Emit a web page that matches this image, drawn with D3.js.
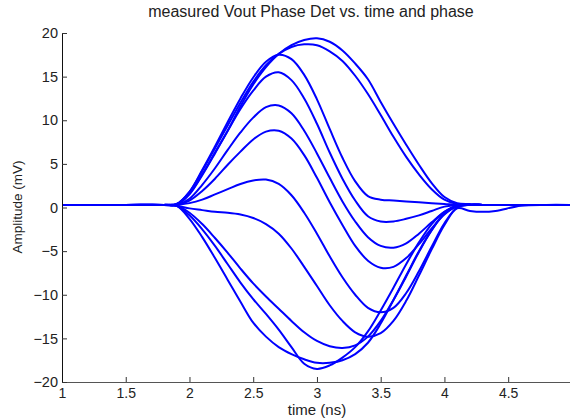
<!DOCTYPE html>
<html>
<head>
<meta charset="utf-8">
<script src="https://cdn.jsdelivr.net/npm/d3@7"></script>
<style>
  html, body { margin: 0; padding: 0; background: #fff; }
  svg text { font-family: Arial, "Liberation Sans", sans-serif; fill: #222; }
</style>
</head>
<body>
<svg id="chart" width="570" height="418"></svg>
<script>
// ---- data ----
const times = [1.0, 1.5, 1.8, 1.9, 2.0, 2.1, 2.2, 2.3, 2.4, 2.5, 2.6, 2.7, 2.8, 2.9, 3.0, 3.1, 3.2, 3.3, 3.4, 3.5, 3.6, 3.7, 3.8, 3.9, 4.0, 4.1, 4.2, 4.3, 4.4, 4.6, 4.8, 4.98];

const traceA  = [0.3, 0.3, 0.3, 0.4, 1.6, 3.8, 6.3, 8.8, 11.6, 14.1, 16.1, 17.6, 18.6, 19.2, 19.4, 19.0, 18.0, 16.5, 14.7, 12.1, 9.6, 7.2, 4.9, 2.8, 1.2, 0.5, 0.4, 0.3, 0.3, 0.3, 0.3, 0.3];
const traceA2 = [0.3, 0.3, 0.3, 0.4, 1.8, 4.2, 6.8, 9.4, 12.0, 14.4, 16.3, 17.6, 18.4, 18.7, 18.6, 17.9, 16.8, 15.1, 13.0, 10.6, 8.1, 5.8, 3.8, 2.1, 0.9, 0.4, 0.3, 0.3, 0.3, 0.3, 0.3, 0.3];
const traceB  = [0.3, 0.3, 0.3, 0.4, 1.8, 4.3, 7.0, 9.8, 12.5, 14.9, 16.7, 17.5, 17.0, 15.2, 12.4, 9.0, 5.7, 3.0, 1.3, 0.9, 0.8, 0.7, 0.6, 0.5, 0.4, 0.3, 0.3, 0.3, 0.3, 0.3, 0.3, 0.3];
const traceC  = [0.3, 0.3, 0.3, 0.3, 1.5, 3.7, 6.2, 8.8, 11.3, 13.4, 15.0, 15.5, 14.6, 12.5, 9.6, 6.3, 3.3, 0.8, -1.0, -1.6, -1.6, -1.3, -0.9, -0.4, 0.1, 0.3, 0.3, 0.3, 0.3, 0.3, 0.3, 0.3];
const traceD  = [0.3, 0.3, 0.3, 0.3, 1.0, 2.6, 4.5, 6.6, 8.6, 10.3, 11.5, 11.7, 10.8, 8.8, 6.2, 3.4, 0.7, -1.6, -3.4, -4.4, -4.6, -4.1, -3.0, -1.7, -0.5, 0.2, 0.3, 0.3, 0.3, 0.3, 0.3, 0.3];
const traceE  = [0.3, 0.3, 0.3, 0.3, 0.8, 1.9, 3.3, 4.9, 6.4, 7.8, 8.7, 8.8, 7.9, 6.0, 3.4, 0.6, -2.0, -4.4, -6.1, -6.9, -6.8, -5.8, -4.2, -2.4, -0.8, 0.2, 0.3, 0.3, 0.3, 0.3, 0.3, 0.3];
const traceF  = [0.3, 0.3, 0.3, 0.3, 0.5, 0.9, 1.5, 2.1, 2.7, 3.1, 3.2, 2.7, 1.4, -0.6, -3.0, -5.6, -8.0, -10.0, -11.5, -12.0, -11.5, -9.8, -7.3, -4.5, -1.8, 0.0, 0.3, 0.3, 0.3, 0.3, 0.3, 0.3];
const traceG  = [0.3, 0.3, 0.3, 0.2, -0.1, -0.3, -0.5, -0.6, -0.8, -1.2, -1.9, -3.0, -4.7, -6.8, -9.0, -11.2, -13.0, -14.3, -14.8, -14.4, -13.0, -10.7, -7.8, -4.8, -2.0, -0.1, -0.4, -0.5, -0.4, 0.2, 0.3, 0.3];
const traceH  = [0.3, 0.3, 0.3, 0.2, -0.6, -1.9, -3.5, -5.2, -7.0, -8.7, -10.2, -11.6, -13.0, -14.3, -15.3, -15.9, -16.1, -15.8, -14.8, -13.0, -10.6, -7.9, -5.1, -2.6, -0.7, 0.1, 0.3, 0.3, 0.3, 0.3, 0.3, 0.3];
const traceI  = [0.3, 0.3, 0.3, 0.2, -1.3, -3.4, -5.8, -8.3, -10.8, -13.2, -14.8, -16.0, -16.8, -17.4, -17.8, -17.8, -17.5, -16.8, -15.5, -13.3, -10.6, -7.8, -5.0, -2.6, -0.7, 0.2, 0.3, 0.3, 0.3, 0.3, 0.3, 0.3];
const traceJ  = [0.3, 0.3, 0.3, 0.2, -0.9, -2.5, -4.4, -6.5, -8.6, -10.5, -12.2, -14.0, -16.0, -17.9, -18.5, -18.1, -17.2, -16.0, -14.2, -11.8, -9.2, -6.5, -4.0, -1.9, -0.5, 0.2, 0.3, 0.3, 0.3, 0.3, 0.3, 0.3];

const traces = [traceA, traceA2, traceB, traceC, traceD, traceE, traceF, traceG, traceH, traceI, traceJ];

const xTicks = [1, 1.5, 2, 2.5, 3, 3.5, 4, 4.5];
const yTicks = [-20, -15, -10, -5, 0, 5, 10, 15, 20];

const titleText = "measured Vout Phase Det vs. time and phase";
const xLabel = "time (ns)";
const yLabel = "Amplitude (mV)";

// ---- layout ----
const W = 570, H = 418;
const mLeft = 62, mRight = 570, mTop = 33, mBottom = 382;
const FONT = "Arial, 'Liberation Sans', sans-serif";

const svg = d3.select("#chart");
const x = d3.scaleLinear().domain([1, 4.985]).range([mLeft, mRight]);
const y = d3.scaleLinear().domain([-20, 20]).range([mBottom, mTop]);

svg.append("defs").append("clipPath").attr("id", "plotclip")
  .append("rect").attr("x", mLeft).attr("y", mTop - 2).attr("width", mRight - mLeft).attr("height", mBottom - mTop + 4);

const line = d3.line()
  .x((d, i) => x(times[i]))
  .y(d => y(d))
  .curve(d3.curveCatmullRom.alpha(0.5));

svg.append("g").attr("clip-path", "url(#plotclip)")
  .selectAll("path").data(traces).join("path")
  .attr("d", d => line(d))
  .attr("fill", "none")
  .attr("stroke", "#0000ff")
  .attr("stroke-width", 2)
  .attr("stroke-linejoin", "round");

// axes
const xAxis = d3.axisBottom(x).tickValues(xTicks).tickSize(-5).tickPadding(6)
  .tickFormat(d3.format("~g"));
const gx = svg.append("g").attr("transform", `translate(0,${mBottom})`).call(xAxis);
gx.select(".domain").attr("stroke", "#555");
gx.selectAll(".tick line").attr("stroke", "#333");
gx.selectAll(".tick text").attr("font-size", 14).attr("fill", "#222").attr("font-family", FONT);

const yAxis = d3.axisLeft(y).tickValues(yTicks).tickSize(-5).tickPadding(4)
  .tickFormat(d3.format("~g"));
const gy = svg.append("g").attr("transform", `translate(${mLeft},0)`).call(yAxis);
gy.select(".domain").attr("stroke", "#111");
gy.selectAll(".tick line").attr("stroke", "#333");
gy.selectAll(".tick text").attr("font-size", 14.5).attr("fill", "#222").attr("font-family", FONT);

svg.append("text").attr("x", 311).attr("y", 17).attr("text-anchor", "middle")
  .attr("font-size", 16).text(titleText);
svg.append("text").attr("x", 317).attr("y", 415).attr("text-anchor", "middle")
  .attr("font-size", 15).text(xLabel);
svg.append("text").attr("transform", `translate(22,207) rotate(-90)`)
  .attr("text-anchor", "middle").attr("font-size", 13.5).text(yLabel);
</script>
</body>
</html>
